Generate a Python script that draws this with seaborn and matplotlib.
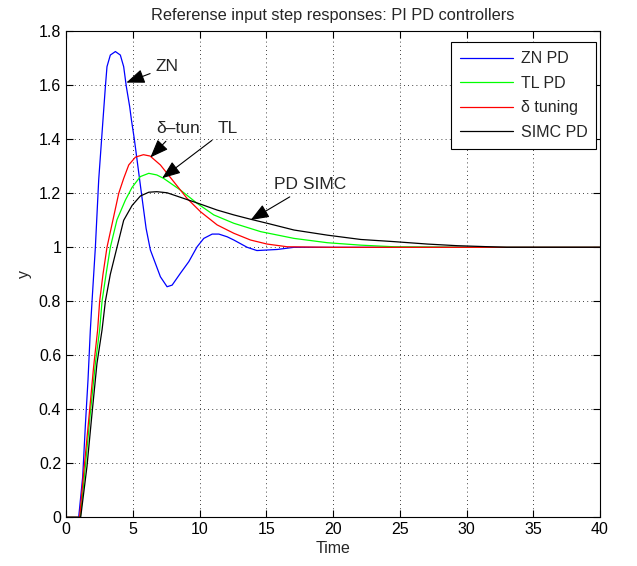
import numpy as np
import pandas as pd
import seaborn as sns
import matplotlib
matplotlib.use("Agg")
import matplotlib.pyplot as plt
from matplotlib.ticker import FuncFormatter

# Step responses (time, output)
zn_t = [0, 0.95, 1.25, 1.45, 1.65, 1.82, 1.95, 2.2, 2.45, 2.77, 2.95, 3.07, 3.32,
        3.7, 4.07, 4.32, 4.52, 4.77, 4.9, 5.12, 5.65, 6.0, 6.32, 6.7, 7.07, 7.57,
        7.95, 8.57, 9.2, 9.82, 10.32, 10.95, 11.45, 12.07, 12.57, 13.57, 14.3,
        15.82, 17.07, 20, 40]
zn_y = [0, 0, 0.15, 0.34, 0.51, 0.69, 0.80, 1.0, 1.25, 1.472, 1.595, 1.669, 1.712,
        1.725, 1.712, 1.669, 1.595, 1.521, 1.472, 1.40, 1.2, 1.07, 0.99, 0.94, 0.891,
        0.854, 0.86, 0.904, 0.947, 1.002, 1.033, 1.049, 1.049, 1.039, 1.027, 1.0,
        0.988, 0.992, 1.0, 1.0, 1.0]

tl_t = [0, 1.07, 1.45, 1.82, 2.2, 2.52, 2.7, 3.0, 3.32, 3.82, 4.45, 4.95, 5.57,
        6.2, 6.8, 7.32, 8.57, 9.82, 11.07, 12.57, 14.58, 17.08, 19.58, 22.08,
        24.58, 30, 40]
tl_y = [0, 0, 0.188, 0.385, 0.57, 0.694, 0.8, 0.9, 1.0, 1.102, 1.175, 1.222, 1.262,
        1.274, 1.268, 1.255, 1.212, 1.163, 1.12, 1.089, 1.058, 1.033, 1.017, 1.008,
        1.002, 1.0, 1.0]

dt_t = [0, 1.02, 1.32, 1.7, 2.07, 2.37, 2.52, 2.77, 3.07, 3.52, 3.95, 4.32, 4.7,
        5.2, 5.8, 6.3, 7.07, 8.07, 9.07, 10.07, 11.32, 12.57, 13.82, 15.07, 16.57,
        20, 40]
dt_y = [0, 0, 0.163, 0.36, 0.558, 0.694, 0.8, 0.9, 1.0, 1.102, 1.2, 1.255, 1.305,
        1.334, 1.343, 1.338, 1.305, 1.243, 1.181, 1.132, 1.083, 1.052, 1.027, 1.012,
        1.002, 1.0, 1.0]

simc_t = [0, 1.1, 1.57, 1.95, 2.32, 2.7, 2.95, 3.32, 3.82, 4.32, 4.95, 5.57, 6.2,
          6.8, 7.57, 8.82, 10.07, 11.32, 12.57, 13.82, 15.07, 17.08, 19.58, 22.08,
          24.58, 27.08, 29.3, 33, 40]
simc_y = [0, 0, 0.188, 0.385, 0.57, 0.694, 0.8, 0.9, 1.0, 1.1, 1.155, 1.19, 1.204,
          1.206, 1.202, 1.181, 1.16, 1.138, 1.12, 1.104, 1.089, 1.064, 1.045, 1.029,
          1.021, 1.012, 1.006, 1.0, 1.0]

labels = ["ZN PD", "TL PD", "\u03b4 tuning", "SIMC PD"]
colors = ["#0000ff", "#00ff00", "#ff0000", "#000000"]

df = pd.concat([
    pd.DataFrame({"Time": zn_t, "y": zn_y, "ctrl": labels[0]}),
    pd.DataFrame({"Time": tl_t, "y": tl_y, "ctrl": labels[1]}),
    pd.DataFrame({"Time": dt_t, "y": dt_y, "ctrl": labels[2]}),
    pd.DataFrame({"Time": simc_t, "y": simc_y, "ctrl": labels[3]}),
], ignore_index=True)

sns.set_style("ticks", {"xtick.direction": "in", "ytick.direction": "in"})
plt.rcParams["font.family"] = ["Liberation Sans", "DejaVu Sans"]

fig = plt.figure(figsize=(6.37, 5.66), dpi=100)
ax = fig.add_axes([0.1036, 0.086, 0.8384, 0.8587])

sns.lineplot(data=df, x="Time", y="y", hue="ctrl", hue_order=labels,
             palette=colors, estimator=None, sort=False, lw=0.9, ax=ax)

ax.set_xlim(0, 40)
ax.set_ylim(0, 1.8)
ax.set_xticks(np.arange(0, 41, 5))
ax.set_yticks(np.arange(0, 1.81, 0.2))
ax.yaxis.set_major_formatter(FuncFormatter(lambda v, p: f"{v:g}"))
ax.tick_params(top=True, right=True, direction="in", length=5, width=0.8,
               labelsize=11.5, colors="k")
for s in ax.spines.values():
    s.set_linewidth(0.8)
    s.set_color("k")
ax.grid(True, color="k", linestyle=(0, (1, 4)), linewidth=0.6)

ax.set_xlabel("Time", fontsize=11.5, labelpad=3)
ax.set_ylabel("y", fontsize=11.5, labelpad=5)
ax.set_title("Referense input step responses: PI PD controllers", fontsize=11.8, pad=8)

leg = ax.legend(loc="upper right", fontsize=11.5, frameon=True, fancybox=False,
                handlelength=3.3, handletextpad=0.5, borderpad=0.55,
                labelspacing=0.6, borderaxespad=0,
                bbox_to_anchor=(0.993, 0.977))
leg.get_frame().set_edgecolor("k")
leg.get_frame().set_linewidth(0.8)
leg.get_frame().set_alpha(1)

arrow = dict(arrowstyle="-|>,head_length=0.9,head_width=0.35", color="k", lw=0.8,
             shrinkA=2, shrinkB=0)
ax.annotate("ZN", xy=(4.52, 1.61), xytext=(7.6, 1.668), ha="center", va="center",
            fontsize=12.5, arrowprops=arrow)
ax.annotate("\u03b4\u2013tun", xy=(6.32, 1.333), xytext=(8.4, 1.44), ha="center",
            va="center", fontsize=12.5, arrowprops=arrow)
ax.annotate("TL", xy=(7.2, 1.256), xytext=(12.1, 1.44), ha="center", va="center",
            fontsize=12.5, arrowprops=arrow)
ax.annotate("PD SIMC", xy=(13.83, 1.101), xytext=(18.3, 1.232), ha="center",
            va="center", fontsize=12.5, arrowprops=arrow)

fig.savefig("out.png", dpi=100, facecolor="white")
